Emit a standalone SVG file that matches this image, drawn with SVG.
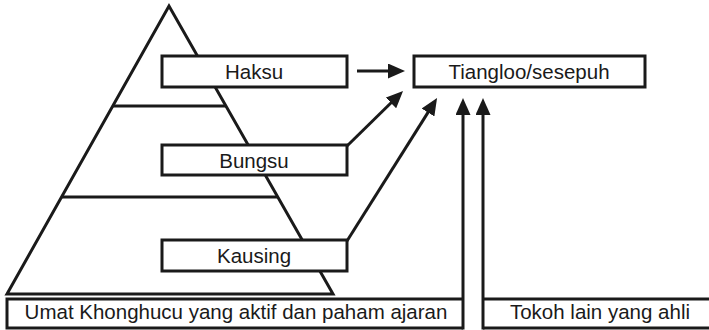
<svg xmlns="http://www.w3.org/2000/svg" width="709" height="330" viewBox="0 0 709 330">
<defs>
<style>
.box{fill:#fff;stroke:#1a1a1a;stroke-width:3}
.ln{fill:none;stroke:#1a1a1a;stroke-width:3}
.t{font-family:"Liberation Sans",Arial,sans-serif;font-size:20.5px;fill:#1a1a1a;text-anchor:middle}
</style>
<marker id="ah" markerUnits="userSpaceOnUse" markerWidth="17" markerHeight="15" refX="6" refY="7.5" orient="auto">
<path d="M0,0 L17,7.5 L0,15 z" fill="#1a1a1a"/>
</marker>
</defs>
<rect width="709" height="330" fill="#fff"/>
<g id="pyramid">
<path class="ln" d="M7,294 L169,6 L333,294 Z" stroke-linejoin="miter"/>
<line class="ln" x1="113" y1="106" x2="226" y2="106"/>
<line class="ln" x1="61" y1="197" x2="278" y2="197"/>
</g>
<g id="haksu">
<rect class="box" x="162" y="56" width="185" height="31"/>
<text class="t" x="254" y="78.5">Haksu</text>
</g>
<g id="bungsu">
<rect class="box" x="162" y="145" width="185" height="30"/>
<text class="t" x="254" y="167.5">Bungsu</text>
</g>
<g id="kausing">
<rect class="box" x="162" y="240" width="185" height="31"/>
<text class="t" x="254" y="262.5">Kausing</text>
</g>
<g id="tiangloo">
<rect class="box" x="414" y="56" width="231" height="31"/>
<text class="t" x="529" y="78.5">Tiangloo/sesepuh</text>
</g>
<g id="umat">
<path class="ln" d="M463,299 L7,299 L7,328 L463,328"/>
<text class="t" x="236" y="318.5">Umat Khonghucu yang aktif dan paham ajaran</text>
</g>
<g id="tokoh">
<path class="ln" d="M712,299 L483,299 M483,328 L712,328"/>
<text class="t" x="600" y="318.5">Tokoh lain yang ahli</text>
</g>
<g id="connectors">
<line class="ln" x1="357" y1="71" x2="394" y2="71" marker-end="url(#ah)"/>
<line class="ln" x1="347" y1="146" x2="395.2" y2="98.7" marker-end="url(#ah)"/>
<line class="ln" x1="347" y1="241" x2="431.2" y2="107.4" marker-end="url(#ah)"/>
<line class="ln" x1="463" y1="329.5" x2="463" y2="109" marker-end="url(#ah)"/>
<line class="ln" x1="483" y1="329.5" x2="483" y2="109" marker-end="url(#ah)"/>
</g>
</svg>
